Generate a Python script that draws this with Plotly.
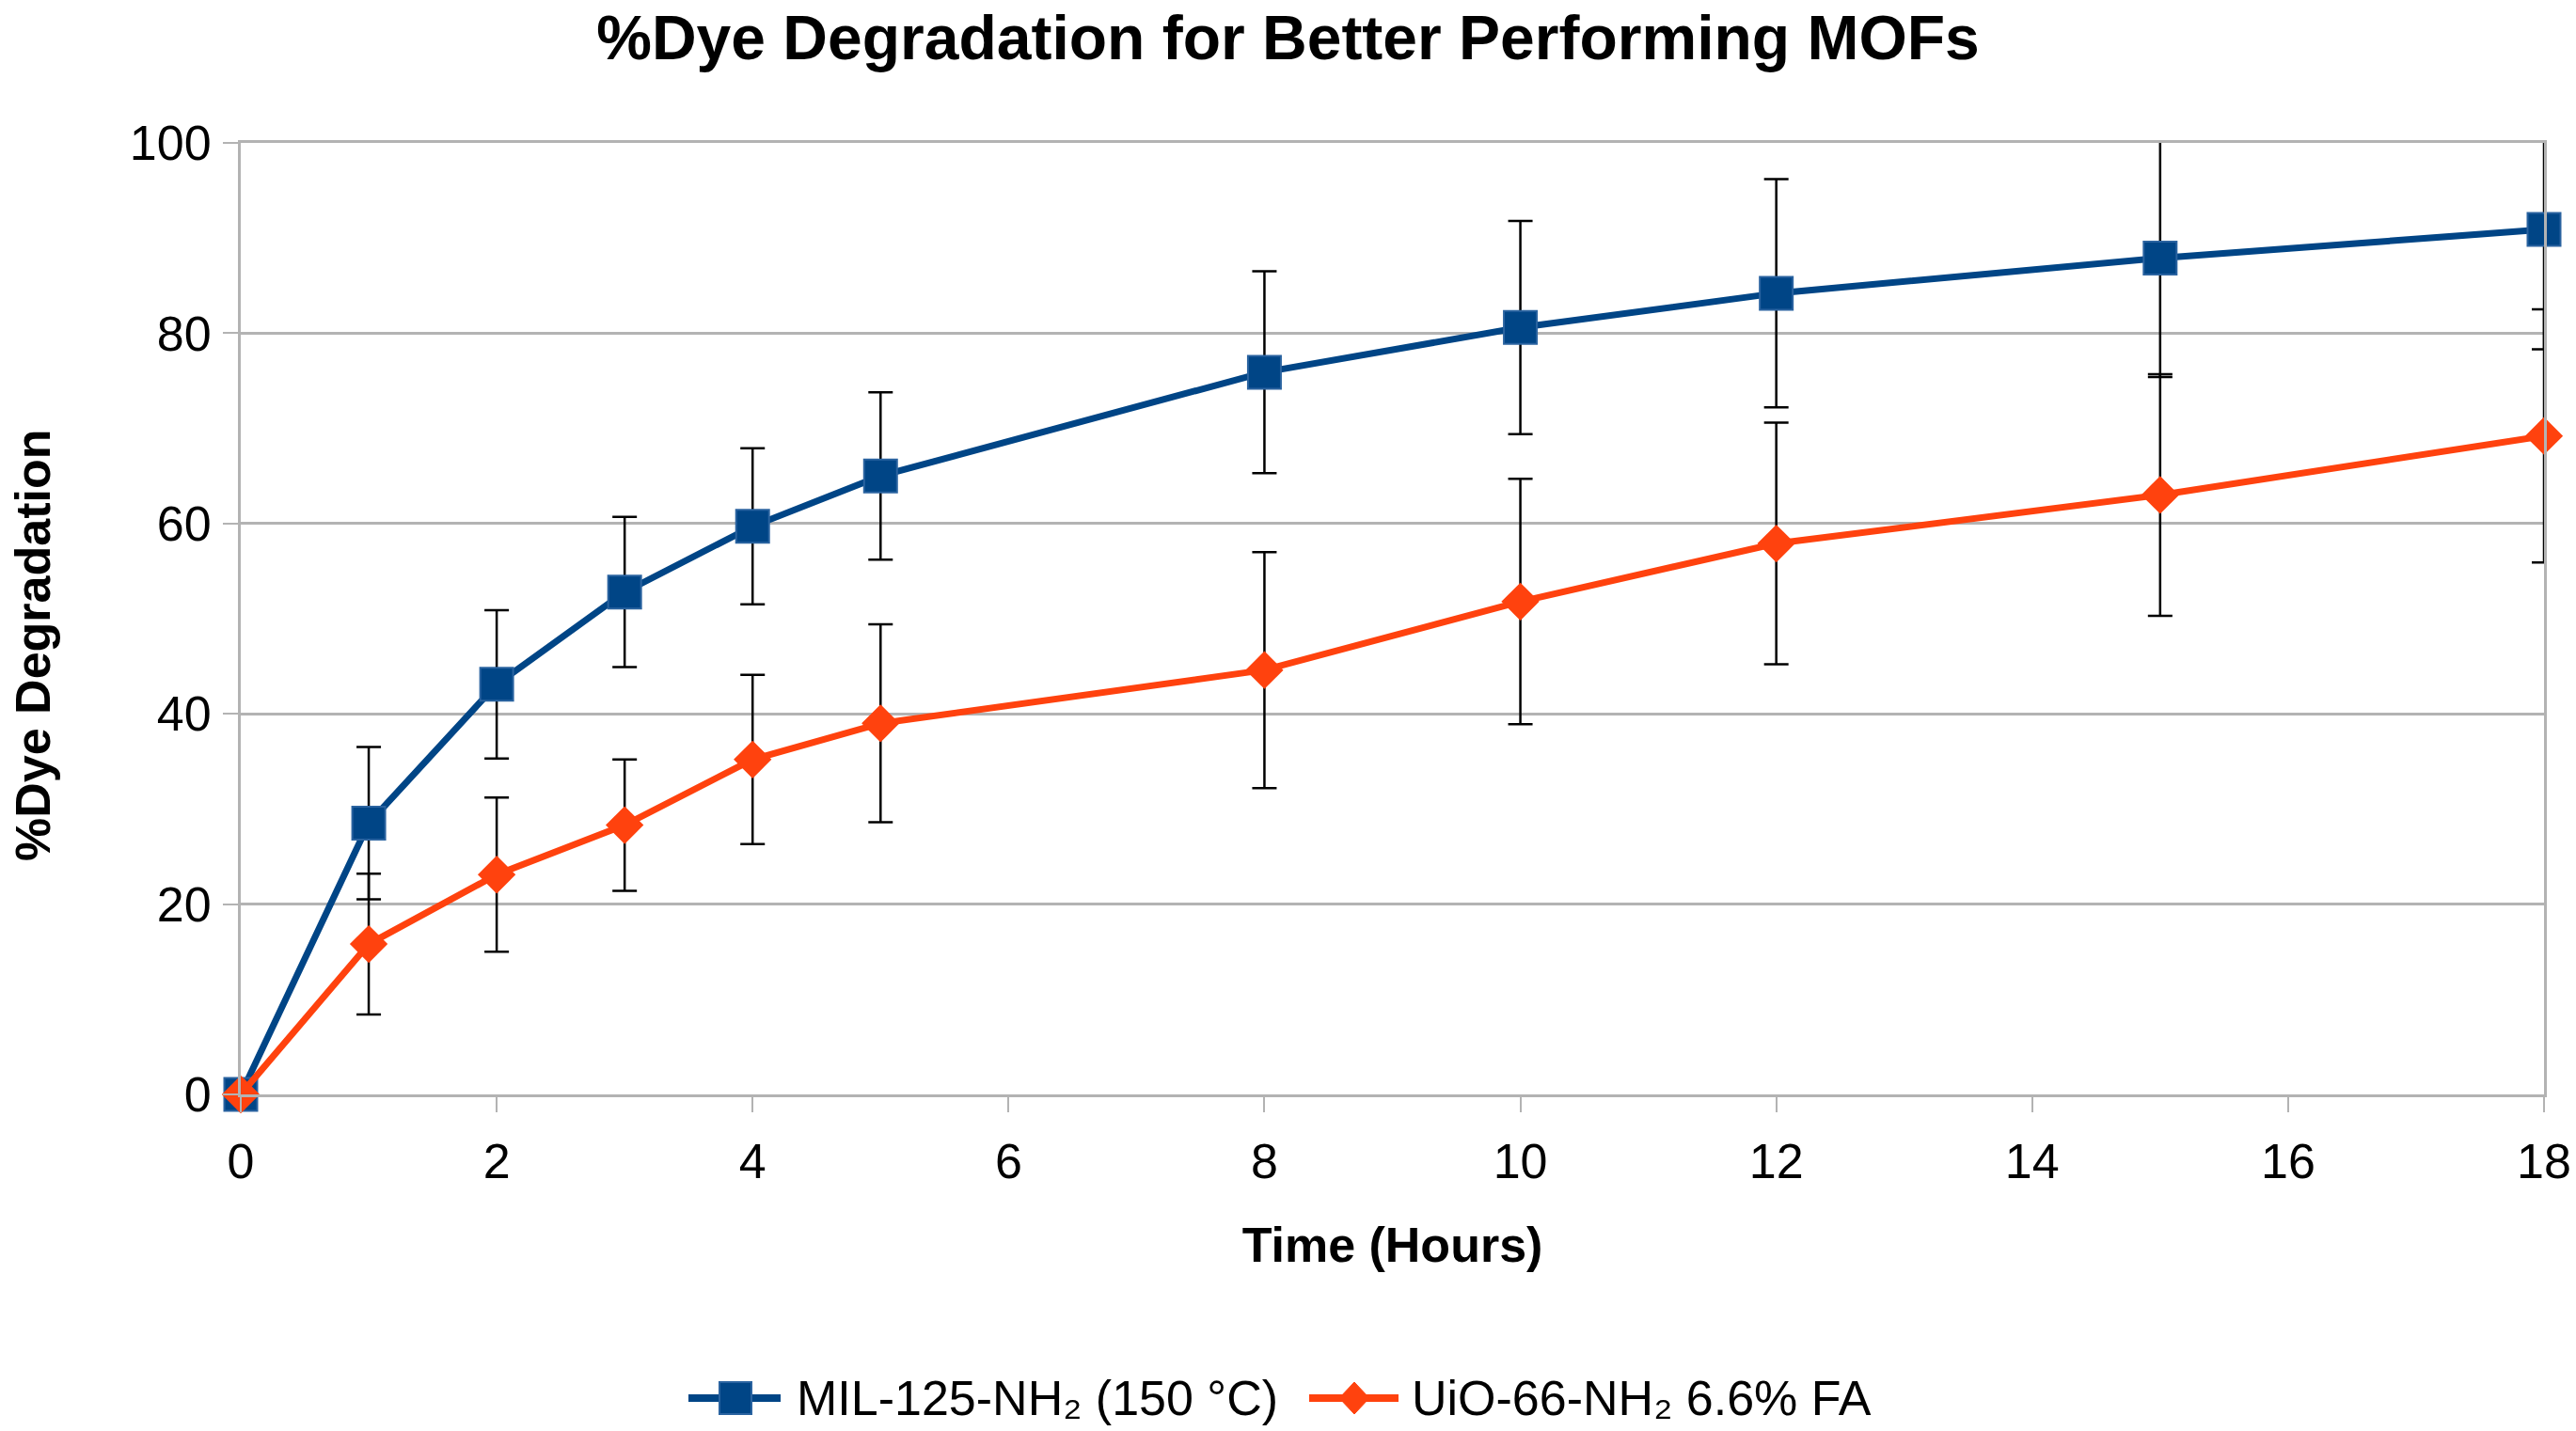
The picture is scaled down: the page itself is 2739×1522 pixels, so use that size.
import plotly.graph_objects as go

time_h = [0, 1, 2, 3, 4, 5, 8, 10, 12, 15, 18]
mil_vals = [0, 28.5, 43.1, 52.8, 59.7, 65.0, 75.9, 80.6, 84.2, 87.9, 90.9]
mil_err = [0.4, 8.0, 7.8, 7.9, 8.2, 8.8, 10.6, 11.2, 12.0, 12.5, 12.6]
uio_vals = [0, 15.8, 23.1, 28.3, 35.2, 39.0, 44.6, 51.8, 57.9, 63.0, 69.2]
uio_err = [0, 7.4, 8.1, 6.9, 8.9, 10.4, 12.4, 12.9, 12.7, 12.7, 13.3]

mil_name = "MIL-125-NH₂ (150 °C)"
uio_name = "UiO-66-NH₂ 6.6% FA"
title_text = "%Dye Degradation for Better Performing MOFs"
x_title = "Time (Hours)"
y_title = "%Dye Degradation"
x_ticks = [0, 2, 4, 6, 8, 10, 12, 14, 16, 18]
y_ticks = [0, 20, 40, 60, 80, 100]

BLUE = "#004586"
ORANGE = "#ff420e"
GRID = "#b3b3b3"
FONT = "Liberation Sans, Arial, sans-serif"

W, H = 2739, 1522
ML, MR, MT, MB = 256, 34, 152, 358
PW, PH = W - ML - MR, H - MT - MB


def px_x(p):
    return (p - ML) / PW


def px_y(p):
    return (H - MB - p) / PH


fig = go.Figure()
fig.add_trace(go.Scatter(
    x=time_h, y=mil_vals, name=mil_name, mode="lines+markers", showlegend=False,
    line=dict(color=BLUE, width=7),
    marker=dict(symbol="square", size=35, color=BLUE, line=dict(color="#2a63a0", width=2)),
    error_y=dict(type="data", array=mil_err, visible=True, color="black", thickness=2.5, width=13),
    cliponaxis=False,
))
fig.add_trace(go.Scatter(
    x=time_h, y=uio_vals, name=uio_name, mode="lines+markers", showlegend=False,
    line=dict(color=ORANGE, width=7),
    marker=dict(symbol="diamond", size=31, color=ORANGE),
    error_y=dict(type="data", array=uio_err, visible=True, color="black", thickness=2.5, width=13),
    cliponaxis=False,
))

# manual legend (legend-sized markers like the reference)
legend_y = px_y(1487)
legend_items = [
    (mil_name, BLUE, "square", 732, 830, 782, 845),
    (uio_name, ORANGE, "diamond", 1392, 1487, 1440, 1499),
]
shapes = []
annotations = []
for name, col, sym, lx0, lx1, mx, tx in legend_items:
    shapes.append(dict(type="line", xref="paper", yref="paper",
                       x0=px_x(lx0), x1=px_x(lx1), y0=legend_y, y1=legend_y,
                       line=dict(color=col, width=8)))
    if sym == "square":
        shapes.append(dict(type="rect", xref="paper", yref="paper",
                           xsizemode="pixel", ysizemode="pixel",
                           xanchor=px_x(mx), yanchor=legend_y,
                           x0=-17, x1=17, y0=-17, y1=17,
                           fillcolor=col, line=dict(color="#2a63a0", width=2)))
    else:
        shapes.append(dict(type="path", xref="paper", yref="paper",
                           xsizemode="pixel", ysizemode="pixel",
                           xanchor=px_x(mx), yanchor=legend_y,
                           path="M -16 0 L 0 17 L 16 0 L 0 -17 Z",
                           fillcolor=col, line=dict(color=col, width=1)))
    annotations.append(dict(text=name, xref="paper", yref="paper",
                            x=px_x(tx), y=legend_y, xanchor="left", yanchor="middle",
                            showarrow=False, font=dict(size=52, family=FONT, color="black")))

annotations.append(dict(text="<b>" + y_title + "</b>", xref="paper", yref="paper",
                        x=px_x(35), y=px_y(687), xanchor="center", yanchor="middle",
                        textangle=-90, showarrow=False, font=dict(size=52, family=FONT)))

fig.update_layout(
    width=W, height=H,
    paper_bgcolor="white", plot_bgcolor="white",
    margin=dict(l=ML, r=MR, t=MT, b=MB, autoexpand=False),
    font=dict(family=FONT, size=52, color="black"),
    title=dict(text="<b>" + title_text + "</b>", x=0.5, xref="container", xanchor="center",
               y=1 - 40 / H, yanchor="middle", font=dict(size=66, family=FONT)),
    showlegend=False,
    xaxis=dict(range=[0, 18], tickvals=x_ticks, showgrid=False, zeroline=False,
               showline=True, linecolor=GRID, linewidth=3, mirror=True,
               ticks="outside", ticklen=16, tickcolor=GRID, tickwidth=2,
               tickfont=dict(size=52), ticklabelstandoff=8, automargin=False,
               title=dict(text="<b>" + x_title + "</b>", font=dict(size=52), standoff=43)),
    yaxis=dict(range=[0, 100], tickvals=y_ticks, showgrid=True, gridcolor=GRID, gridwidth=3,
               zeroline=False, showline=True, linecolor=GRID, linewidth=3, mirror=True,
               ticks="outside", ticklen=16, tickcolor=GRID, tickwidth=2,
               tickfont=dict(size=52), ticklabelstandoff=2, automargin=False),
    shapes=shapes,
    annotations=annotations,
)

fig.write_html("out.html")
